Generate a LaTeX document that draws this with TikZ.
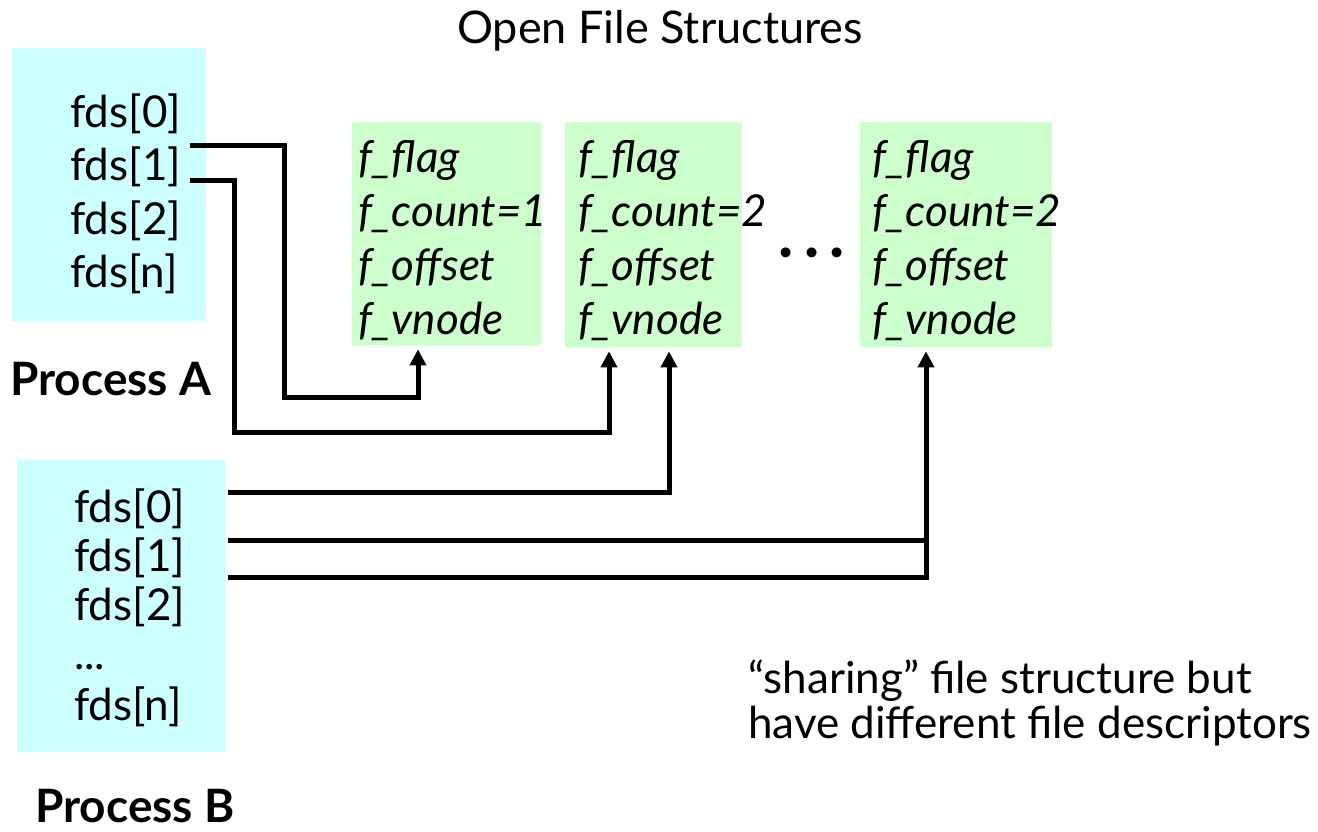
\documentclass[tikz,border=0pt]{standalone}
\usepackage{fontspec}
\setmainfont{Lato}
\usetikzlibrary{arrows.meta,calc}
\definecolor{procfill}{HTML}{CCFFFF}
\definecolor{filefill}{HTML}{CCFFCC}
\newcommand{\gapdot}{\makebox[25.5pt]{·}}
\begin{document}
\begin{tikzpicture}[x=1pt,y=-1pt,
  txt/.style={inner sep=0pt,anchor=base west,font=\fontsize{44}{46}\selectfont},
  fld/.style={inner sep=0pt,anchor=base west,font=\fontsize{44}{46}\selectfont\itshape},
  head/.style={inner sep=0pt,anchor=base west,font=\fontsize{46}{48}\selectfont\bfseries},
  procbox/.style={fill=procfill,draw=none,inner sep=0pt,anchor=north west},
  filebox/.style={fill=filefill,draw=none,inner sep=0pt,anchor=north west},
  wire/.style={line width=5pt},
  ptr/.style={wire,-{Triangle[width=16pt,length=16pt]}}]
\useasboundingbox (0,0) rectangle (1318,831);

% title
\node[inner sep=0pt,anchor=base,font=\fontsize{45}{48}\selectfont] (title) at (660,43) {Open File Structures};

% process A descriptor table
\node[procbox,minimum width=194pt,minimum height=273pt] (procA) at (12,48) {};
\node[txt] (a0) at (70,127) {fds[0]};
\node[txt] (a1) at (70,180) {fds[1]};
\node[txt] (a2) at (70,234) {fds[2]};
\node[txt] (an) at (70,287) {fds[n]};
\node[head] (labA) at (10,395) {Process A};

% open file structures
\node[filebox,minimum width=189pt,minimum height=223pt] (ofs1) at (352,122) {};
\node[filebox,minimum width=177pt,minimum height=225pt] (ofs2) at (565,122) {};
\node[filebox,minimum width=192pt,minimum height=225pt] (ofs3) at (860,122) {};

\node[fld] (fl1) at (358,172) {f\_flag};
\node[fld] (fc1) at (358,226) {f\_count=1};
\node[fld] (fo1) at (358,280) {f\_offset};
\node[fld] (fv1) at (358,334) {f\_vnode};

\node[fld] (fl2) at (578,172) {f\_flag};
\node[fld] (fc2) at (578,226) {f\_count=2};
\node[fld] (fo2) at (578,280) {f\_offset};
\node[fld] (fv2) at (578,334) {f\_vnode};

\node[fld] (fl3) at (872,172) {f\_flag};
\node[fld] (fc3) at (872,226) {f\_count=2};
\node[fld] (fo3) at (872,280) {f\_offset};
\node[fld] (fv3) at (872,334) {f\_vnode};

% ellipsis between the structures
\node[inner sep=0pt,anchor=base,font=\fontsize{66}{66}\selectfont] (gap) at (812,272) {\gapdot\gapdot\gapdot};

% process B descriptor table
\node[procbox,minimum width=208pt,minimum height=292pt] (procB) at (17,460) {};
\node[txt] (b0) at (74,522) {fds[0]};
\node[txt] (b1) at (74,571) {fds[1]};
\node[txt] (b2) at (74,620) {fds[2]};
\node[txt] (bd) at (74,669) {...};
\node[txt] (bn) at (74,720) {fds[n]};
\node[head] (labB) at (35,822) {Process B};

% note
\node[inner sep=0pt,align=left,anchor=north west,font=\fontsize{44}{45}\selectfont] (note) at (748,660)
  {“sharing” file structure but\\have different file descriptors};

% connector end points at the descriptor tables
\coordinate (a1p) at (190,145);
\coordinate (a1q) at (190,180);
\coordinate (b0p) at (228,492);
\coordinate (b1p) at (228,540);
\coordinate (b1q) at (228,577);

% pointers into the open file structures
\draw[ptr] (a1p) -- (284,145) -- (284,397) -- (418,397) -- ($(ofs1.south -| 418,0)+(0,4)$);
\draw[ptr] (a1q) -- (234,180) -- (234,432) -- (609,432) -- ($(ofs2.south -| 609,0)+(0,4)$);
\draw[ptr] (b0p) -- (669,492) -- ($(ofs2.south -| 669,0)+(0,4)$);
\draw[ptr] (b1p) -- (926,540) -- ($(ofs3.south -| 926,0)+(0,4)$);
\draw[wire] (b1q) -- (926,577) -- (926,538);
\end{tikzpicture}
\end{document}
